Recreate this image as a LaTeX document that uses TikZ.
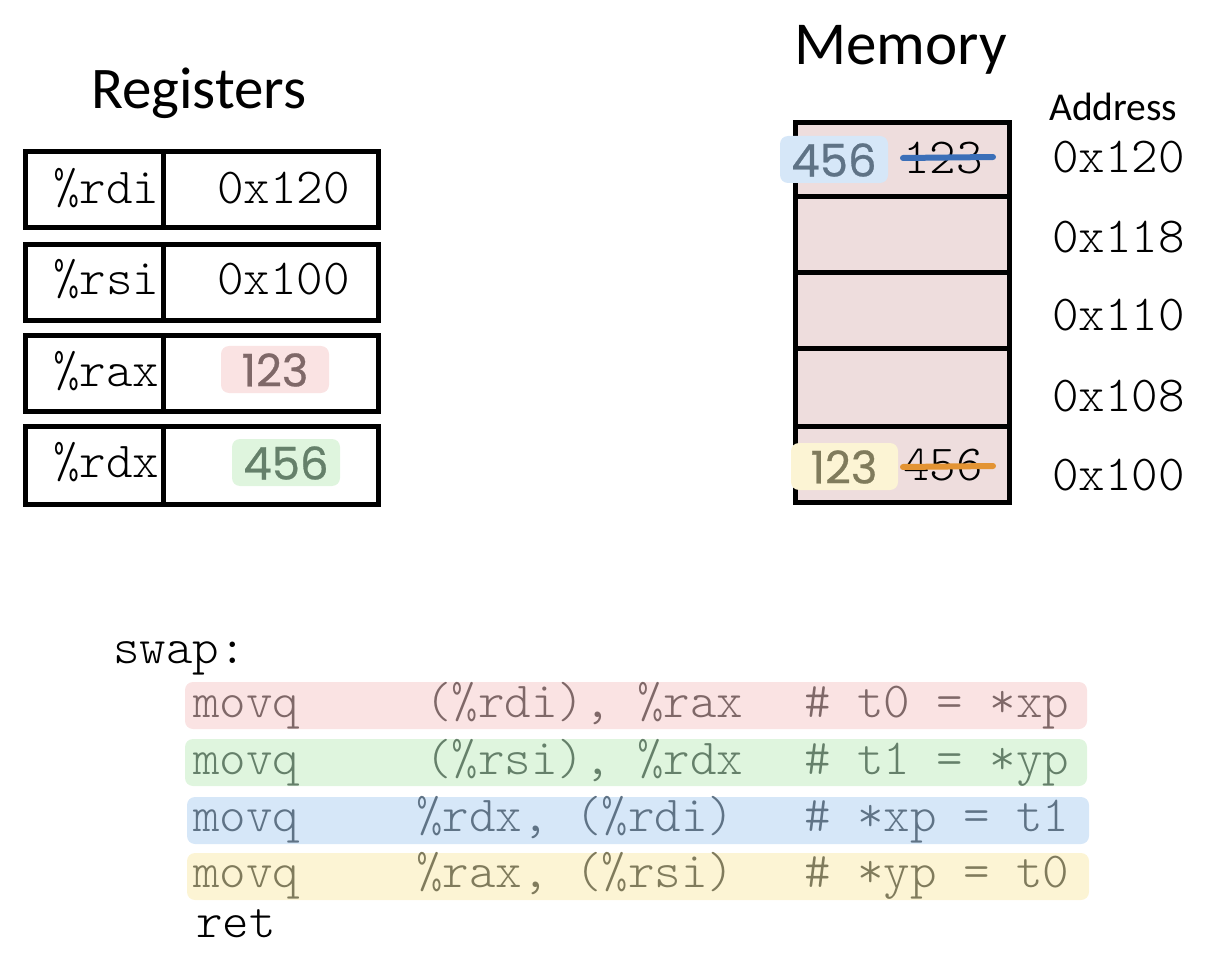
\documentclass[tikz,border=0pt]{standalone}
\usepackage{fontspec}
\setmainfont{Carlito}
\setmonofont{lmmonolt10-regular.otf}
\newfontfamily\handfont[FakeBold=0.6]{Poppins}
\definecolor{pinkbg}{HTML}{FAE3E3}
\definecolor{pinktx}{HTML}{7F6868}
\definecolor{greenbg}{HTML}{DFF5DE}
\definecolor{greentx}{HTML}{65806A}
\definecolor{bluebg}{HTML}{D6E7F8}
\definecolor{bluetx}{HTML}{5F7386}
\definecolor{yellowbg}{HTML}{FCF4D4}
\definecolor{yellowtx}{HTML}{807B5C}
\definecolor{memfill}{HTML}{EEDDDD}
\definecolor{strikeblue}{HTML}{3B6FB8}
\definecolor{strikeorange}{HTML}{E39434}
\begin{document}
\begin{tikzpicture}[x=1pt,y=-1pt,
  box/.style={draw=black,line width=5pt},
  title/.style={inner sep=0pt,anchor=base west,font=\fontsize{60}{64}\selectfont},
  mono/.style={inner sep=0pt,anchor=base west,font=\ttfamily\fontsize{50.5}{54}\selectfont},
  hand/.style={inner sep=0pt,anchor=center,font=\handfont\fontsize{45}{48}\selectfont},
  hl/.style={rounded corners=8pt},
  strike/.style={line width=6pt,line cap=round}]
\useasboundingbox (0,0) rectangle (1208,968);
% titles
\node[title,font=\fontsize{59}{64}\selectfont] (tReg) at (91,109) {Registers};
\node[title,font=\fontsize{61}{64}\selectfont] (tMem) at (794,65) {Memory};
\node[title,font=\fontsize{39.5}{44}\selectfont] (tAddr) at (1049,121) {Address};
% registers
\foreach \t/\b in {151.5/227.5,244.5/320.5,335.5/411.5,426.5/504.5}{
  \draw[box] (25.5,\t) rectangle (378.5,\b);
  \draw[box] (163,\t) -- (163,\b);
}
\node[mono] (r1) at (53,204) {\%rdi};
\node[mono] (r2) at (53,295) {\%rsi};
\node[mono] (r3) at (53,387) {\%rax};
\node[mono] (r4) at (53,477) {\%rdx};
\node[mono] (v1) at (217,204) {0x120};
\node[mono] (v2) at (217,295) {0x100};
\fill[pinkbg,hl] (221,346) rectangle (329,393);
\node[hand,text=pinktx] (v3) at (275,370) {123};
\fill[greenbg,hl] (232,439) rectangle (340,486);
\node[hand,text=greentx] (v4) at (286,463) {456};
% memory
\draw[box,fill=memfill] (795.5,122.5) rectangle (1009.5,502.5);
\foreach \y in {197,273,349,426}{\draw[box] (795.5,\y) -- (1009.5,\y);}
\node[mono] (m1) at (903,174) {123};
\draw[strike,strikeblue] (903,158) -- (993,157);
\fill[bluebg,hl] (780,136) rectangle (888,183);
\node[hand,text=bluetx] (m1n) at (834,160) {456};
\node[mono] (m5) at (903,480) {456};
\draw[strike,strikeorange] (903,467) -- (993,466);
\fill[yellowbg,hl] (791,443) rectangle (898,490);
\node[hand,text=yellowtx] (m5n) at (844,467) {123};
% addresses
\node[mono] (a1) at (1052,173) {0x120};
\node[mono] (a2) at (1052,253) {0x118};
\node[mono] (a3) at (1052,331) {0x110};
\node[mono] (a4) at (1052,411) {0x108};
\node[mono] (a5) at (1052,490) {0x100};
% code
\node[mono] (swap) at (113,663) {swap:};
\fill[pinkbg,hl] (185,682) rectangle (1087,729);
\fill[greenbg,hl] (185,739) rectangle (1087,786);
\fill[bluebg,hl] (187,797) rectangle (1089,844);
\fill[yellowbg,hl] (187,853) rectangle (1089,900);
\node[mono,text=pinktx] (c1a) at (193,717) {movq};
\node[mono,text=pinktx] (c1b) at (425,717) {(\%rdi), \%rax};
\node[mono,text=pinktx] (c1c) at (804,717) {\# t0 = *xp};
\node[mono,text=greentx] (c2a) at (193,774) {movq};
\node[mono,text=greentx] (c2b) at (425,774) {(\%rsi), \%rdx};
\node[mono,text=greentx] (c2c) at (804,774) {\# t1 = *yp};
\node[mono,text=bluetx] (c3a) at (193,831) {movq};
\node[mono,text=bluetx] (c3b) at (416,831) {\%rdx, (\%rdi)};
\node[mono,text=bluetx] (c3c) at (804,831) {\# *xp = t1};
\node[mono,text=yellowtx] (c4a) at (193,887) {movq};
\node[mono,text=yellowtx] (c4b) at (416,887) {\%rax, (\%rsi)};
\node[mono,text=yellowtx] (c4c) at (804,887) {\# *yp = t0};
\node[mono] (ret) at (196,937) {ret};
\end{tikzpicture}
\end{document}
